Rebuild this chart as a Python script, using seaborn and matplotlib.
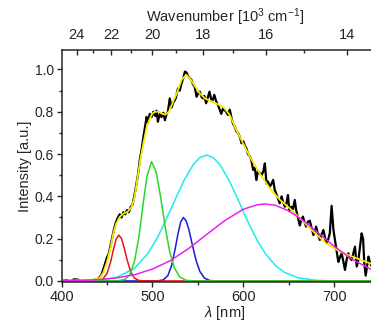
import matplotlib
matplotlib.use("Agg")
import matplotlib.pyplot as plt
from matplotlib.ticker import MultipleLocator, FixedLocator
import seaborn as sns
import pandas as pd

# measured emission spectrum (black, noisy)
spec_nm = [400, 405, 410, 414, 418, 422, 426, 430, 434, 438, 441, 444, 447, 449.7, 452, 454, 456, 458,
           460, 462, 464, 466, 468, 470, 472, 474, 476, 478, 480, 482, 484, 486, 488, 490, 491.5, 493.6,
           495, 497, 499, 501, 503, 504.5, 506, 508, 510, 512, 513.7, 515.5, 517, 519, 521, 523, 524.7,
           526, 528, 530, 532, 534, 535.7, 537.6, 539, 541, 543, 544.5, 546.5, 548.5, 550, 552, 554,
           555.5, 557, 559, 561, 562.7, 564.5, 566.3, 568, 570, 572, 574, 575.7, 577.5, 579, 581, 583,
           585, 587, 588.5, 590.5, 592.5, 594, 596, 598, 600, 601.5, 603.5, 605, 607, 608.7, 610.7,
           612.5, 614.3, 616, 618, 620, 622, 623.6, 625.4, 627, 629, 631, 632.7, 634.5, 636, 638, 640,
           642, 643.8, 645.6, 647.5, 649, 650.5, 652.7, 654.5, 656.5, 658, 660, 662, 663.8, 665.5, 667,
           669, 671, 673, 675, 677, 678.5, 680, 682, 684, 686, 688, 690, 691.5, 693.5, 695, 697, 699,
           701, 702.7, 704.4, 706, 708, 710, 711.7, 713.5, 715.4, 717, 719, 720.8, 722.7, 724.6, 726.5,
           728.5, 730, 731.6, 733, 734.5, 736, 737.5, 739, 741, 743, 746, 750]
spec_int = [0.0, 0.004, 0.0, 0.008, 0.006, 0.0, 0.003, 0.0, 0.004, 0.006, 0.012, 0.03, 0.07, 0.108, 0.13,
            0.17, 0.21, 0.25, 0.28, 0.30, 0.315, 0.30, 0.325, 0.315, 0.335, 0.325, 0.35, 0.36, 0.40, 0.45,
            0.50, 0.57, 0.62, 0.68, 0.72, 0.776, 0.75, 0.79, 0.775, 0.80, 0.78, 0.805, 0.753, 0.79, 0.775,
            0.795, 0.76, 0.79, 0.80, 0.863, 0.82, 0.845, 0.855, 0.87, 0.91, 0.90, 0.935, 0.96, 0.99, 0.985,
            0.97, 0.96, 0.95, 0.93, 0.918, 0.871, 0.885, 0.895, 0.87, 0.863, 0.875, 0.84, 0.87, 0.895, 0.86,
            0.855, 0.88, 0.85, 0.832, 0.81, 0.79, 0.815, 0.81, 0.80, 0.785, 0.81, 0.77, 0.745, 0.73, 0.706,
            0.70, 0.682, 0.651, 0.66, 0.64, 0.625, 0.60, 0.59, 0.572, 0.525, 0.535, 0.477, 0.52, 0.51, 0.50,
            0.52, 0.556, 0.46, 0.47, 0.446, 0.46, 0.478, 0.43, 0.414, 0.39, 0.367, 0.40, 0.37, 0.351, 0.37,
            0.406, 0.33, 0.351, 0.34, 0.383, 0.336, 0.30, 0.262, 0.29, 0.304, 0.28, 0.257, 0.28, 0.285, 0.25,
            0.217, 0.235, 0.257, 0.22, 0.194, 0.22, 0.241, 0.20, 0.178, 0.20, 0.225, 0.355, 0.241, 0.186,
            0.14, 0.09, 0.11, 0.131, 0.09, 0.052, 0.10, 0.131, 0.11, 0.099, 0.13, 0.162, 0.068, 0.10, 0.17,
            0.225, 0.20, 0.08, 0.025, 0.07, 0.115, 0.09, 0.07, 0.10, 0.06, 0.09]

# cumulative fit (yellow)
fit_nm = [400, 420, 435, 442, 446, 450, 454, 457, 460, 464, 468, 473, 477, 480, 483, 486.5, 490, 494,
          499.5, 503, 507, 510, 514, 518, 522, 527, 532, 537, 541, 545, 552, 558, 567, 578, 585, 592, 600,
          607, 618, 629, 640, 651, 662, 677, 691, 706, 721, 739, 760]
fit_int = [0.002, 0.003, 0.005, 0.013, 0.04, 0.09, 0.16, 0.225, 0.27, 0.303, 0.318, 0.328, 0.35, 0.39,
           0.47, 0.57, 0.65, 0.735, 0.79, 0.80, 0.80, 0.792, 0.786, 0.80, 0.84, 0.89, 0.95, 0.975, 0.96,
           0.932, 0.887, 0.862, 0.846, 0.822, 0.785, 0.716, 0.648, 0.588, 0.508, 0.438, 0.384, 0.343, 0.297,
           0.233, 0.178, 0.139, 0.113, 0.084, 0.06]

# fitted components
red_nm = [400, 435, 445, 450, 454, 457, 460, 463, 466, 469, 472, 476, 480, 485, 495, 760]
red_int = [0.0, 0.0, 0.007, 0.035, 0.090, 0.147, 0.197, 0.217, 0.200, 0.155, 0.102, 0.044, 0.014, 0.002, 0.0, 0.0]

green_nm = [400, 460, 470, 475, 480, 485, 490, 494, 499, 504, 509, 514, 519, 524, 530, 537, 545, 760]
green_int = [0.0, 0.0, 0.007, 0.029, 0.088, 0.205, 0.372, 0.496, 0.564, 0.516, 0.397, 0.255, 0.138, 0.062,
             0.019, 0.003, 0.0, 0.0]

blue_nm = [400, 505, 512, 517, 521, 525, 528, 531, 534, 537, 540, 544, 548, 552, 557, 563, 570, 685]
blue_int = [0.0, 0.0, 0.005, 0.026, 0.072, 0.152, 0.221, 0.278, 0.300, 0.285, 0.244, 0.168, 0.097, 0.046,
            0.014, 0.002, 0.0, 0.0]

cyan_nm = [400, 440, 460, 480, 495, 505, 515, 525, 535, 545, 552, 559.5, 567, 575, 585, 595, 605, 615, 625,
           635, 645, 660, 680, 700, 760]
cyan_int = [0.0, 0.003, 0.016, 0.059, 0.130, 0.201, 0.289, 0.385, 0.478, 0.551, 0.583, 0.595, 0.583, 0.545,
            0.469, 0.376, 0.279, 0.193, 0.124, 0.074, 0.041, 0.015, 0.003, 0.0, 0.0]

magenta_nm = [400, 420, 440, 460, 480, 500, 520, 540, 560, 580, 600, 615, 624, 635, 650, 665, 680, 700, 720,
              740, 760]
magenta_int = [0.0, 0.002, 0.006, 0.014, 0.029, 0.056, 0.097, 0.154, 0.221, 0.287, 0.339, 0.360, 0.364,
               0.358, 0.331, 0.288, 0.235, 0.163, 0.101, 0.056, 0.028]

wn_major = [24, 22, 20, 18, 16, 14]
wn_minor = [23, 21, 19, 17, 15]

sns.set_style("ticks")
plt.rcParams['font.family'] = ['Liberation Sans', 'DejaVu Sans']
plt.rcParams['mathtext.fontset'] = 'custom'
plt.rcParams['mathtext.rm'] = 'Liberation Sans'
plt.rcParams['mathtext.it'] = 'Liberation Sans:italic'
plt.rcParams['font.size'] = 10.5

fig = plt.figure(figsize=(3.71, 3.21), dpi=100)
ax = fig.add_axes([0.1658, 0.1215, 0.880, 0.7227])

sns.lineplot(x=spec_nm, y=spec_int, ax=ax, color='black', lw=1.6, estimator=None)
sns.lineplot(x=fit_nm, y=fit_int, ax=ax, color='#f5eb00', lw=1.3, estimator=None)

comps = [(blue_nm, blue_int, '#1a1adb'),
         (cyan_nm, cyan_int, '#22eaea'),
         (red_nm, red_int, '#e8141a'),
         (green_nm, green_int, '#2ad62a'),
         (magenta_nm, magenta_int, '#ea22ea')]
for xs, ys, c in comps:
    sns.lineplot(x=xs, y=ys, ax=ax, color=c, lw=1.1, estimator=None)

ax.set_xlim(400, 759)
ax.set_ylim(-0.005, 1.092)
ax.xaxis.set_major_locator(MultipleLocator(100))
ax.xaxis.set_minor_locator(MultipleLocator(50))
ax.yaxis.set_major_locator(MultipleLocator(0.2))
ax.yaxis.set_minor_locator(MultipleLocator(0.1))
ax.yaxis.set_major_formatter(matplotlib.ticker.FormatStrFormatter('%.1f'))
ax.tick_params(which='major', direction='out', length=3.5, width=1, pad=2)
ax.tick_params(which='minor', direction='out', length=2.5, width=1)
ax.tick_params(axis='y', labelsize=10)
ax.set_xlabel(r'$\lambda$ [nm]', labelpad=0)
ax.set_ylabel('Intensity [a.u.]', labelpad=2)
ax.spines['top'].set_visible(False)
ax.spines['right'].set_visible(False)
for s in ['left', 'bottom']:
    ax.spines[s].set_linewidth(1.1)

top = ax.secondary_xaxis('top', functions=(lambda l: 1e4 / l, lambda w: 1e4 / w))
top.xaxis.set_major_locator(FixedLocator(wn_major))
top.xaxis.set_minor_locator(FixedLocator(wn_minor))
top.tick_params(which='major', direction='in', length=3.5, width=1, pad=6)
top.tick_params(which='minor', direction='in', length=2.5, width=1)
top.spines['top'].set_linewidth(1.1)
top.set_xlabel(r'Wavenumber [10$^3$ cm$^{-1}$]', labelpad=4)

fig.savefig('out.png', dpi=100)
